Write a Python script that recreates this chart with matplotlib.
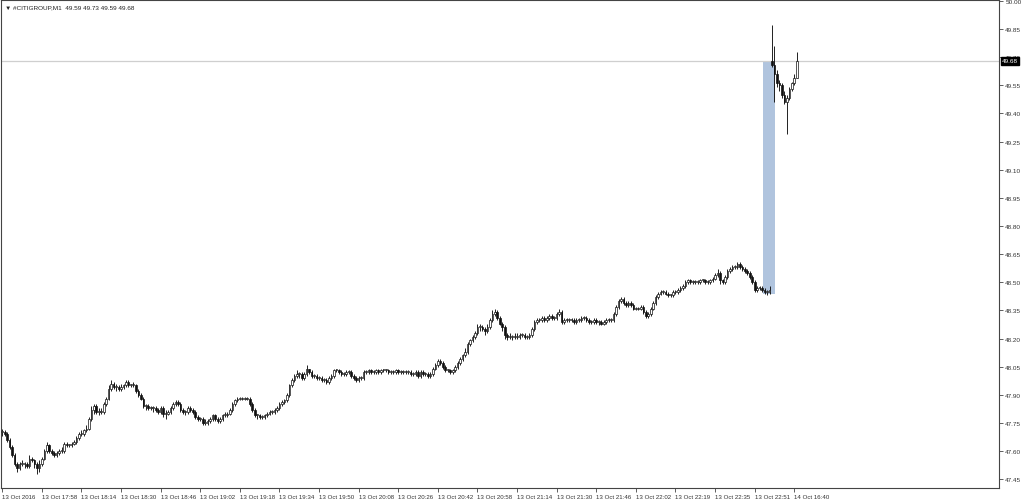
import numpy as np
import matplotlib.pyplot as plt
from matplotlib.transforms import blended_transform_factory

# chart header
symbol = "#CITIGROUP,M1"
last_ohlc = [49.59, 49.73, 49.59, 49.68]
current_price = 49.68

# one-minute bars (10 bars per row)
closes = [
    47.70, 47.69, 47.66, 47.62, 47.58, 47.53, 47.51, 47.53, 47.53, 47.53,
    47.52, 47.56, 47.55, 47.53, 47.51, 47.53, 47.56, 47.60, 47.63, 47.60,
    47.59, 47.58, 47.59, 47.60, 47.60, 47.64, 47.63, 47.63, 47.64, 47.65,
    47.67, 47.69, 47.69, 47.71, 47.72, 47.77, 47.82, 47.84, 47.81, 47.81,
    47.81, 47.85, 47.88, 47.93, 47.96, 47.94, 47.94, 47.93, 47.94, 47.95,
    47.97, 47.95, 47.95, 47.95, 47.92, 47.90, 47.88, 47.84, 47.84, 47.83,
    47.83, 47.83, 47.82, 47.81, 47.83, 47.80, 47.80, 47.81, 47.83, 47.85,
    47.86, 47.85, 47.82, 47.81, 47.81, 47.83, 47.82, 47.81, 47.78, 47.77,
    47.77, 47.75, 47.75, 47.76, 47.77, 47.79, 47.77, 47.76, 47.77, 47.79,
    47.79, 47.80, 47.82, 47.85, 47.87, 47.88, 47.88, 47.88, 47.88, 47.88,
    47.85, 47.82, 47.79, 47.79, 47.78, 47.78, 47.79, 47.80, 47.81, 47.81,
    47.82, 47.83, 47.85, 47.86, 47.87, 47.90, 47.95, 47.98, 48.00, 48.01,
    48.01, 47.99, 48.01, 48.04, 48.02, 48.00, 48.00, 47.99, 47.99, 47.98,
    47.98, 47.97, 47.99, 48.00, 48.03, 48.03, 48.02, 48.01, 48.01, 48.02,
    48.02, 48.00, 47.99, 47.98, 47.99, 47.99, 48.02, 48.02, 48.03, 48.02,
    48.02, 48.03, 48.02, 48.03, 48.03, 48.03, 48.02, 48.02, 48.02, 48.03,
    48.02, 48.02, 48.02, 48.02, 48.02, 48.01, 48.01, 48.02, 48.00, 48.02,
    48.01, 48.01, 48.00, 48.01, 48.04, 48.06, 48.08, 48.07, 48.05, 48.03,
    48.03, 48.02, 48.03, 48.05, 48.07, 48.09, 48.11, 48.13, 48.17, 48.19,
    48.21, 48.23, 48.26, 48.26, 48.25, 48.24, 48.26, 48.30, 48.33, 48.34,
    48.31, 48.28, 48.26, 48.22, 48.21, 48.21, 48.21, 48.21, 48.21, 48.22,
    48.22, 48.21, 48.21, 48.22, 48.25, 48.29, 48.30, 48.30, 48.31, 48.30,
    48.31, 48.32, 48.31, 48.31, 48.33, 48.34, 48.29, 48.30, 48.30, 48.30,
    48.30, 48.29, 48.30, 48.30, 48.31, 48.31, 48.30, 48.29, 48.29, 48.30,
    48.29, 48.29, 48.28, 48.29, 48.30, 48.30, 48.30, 48.33, 48.37, 48.40,
    48.41, 48.39, 48.38, 48.39, 48.38, 48.36, 48.36, 48.36, 48.37, 48.34,
    48.32, 48.33, 48.36, 48.39, 48.42, 48.44, 48.45, 48.45, 48.44, 48.43,
    48.43, 48.45, 48.45, 48.46, 48.47, 48.48, 48.50, 48.51, 48.50, 48.50,
    48.50, 48.50, 48.51, 48.51, 48.50, 48.50, 48.51, 48.52, 48.54, 48.55,
    48.51, 48.50, 48.53, 48.56, 48.57, 48.58, 48.58, 48.60, 48.58, 48.57,
    48.56, 48.55, 48.53, 48.50, 48.46, 48.47, 48.47, 48.46, 48.45, 48.45,
    48.46,
    # 14 Oct, after the gap
    49.66, 49.61, 49.56, 49.55, 49.50, 49.46, 49.48, 49.53, 49.56, 49.59,
    49.68,
]
highs = [
    47.72, 47.71, 47.70, 47.67, 47.63, 47.59, 47.54, 47.54, 47.55, 47.54,
    47.54, 47.58, 47.57, 47.56, 47.54, 47.55, 47.57, 47.61, 47.65, 47.64,
    47.61, 47.60, 47.60, 47.61, 47.62, 47.65, 47.65, 47.64, 47.65, 47.66,
    47.68, 47.70, 47.71, 47.72, 47.74, 47.78, 47.84, 47.85, 47.85, 47.83,
    47.83, 47.86, 47.89, 47.95, 47.98, 47.97, 47.96, 47.95, 47.96, 47.96,
    47.98, 47.98, 47.96, 47.97, 47.96, 47.93, 47.91, 47.89, 47.85, 47.85,
    47.84, 47.84, 47.84, 47.83, 47.84, 47.84, 47.82, 47.82, 47.84, 47.86,
    47.87, 47.87, 47.86, 47.83, 47.82, 47.84, 47.84, 47.83, 47.82, 47.79,
    47.78, 47.78, 47.77, 47.77, 47.78, 47.80, 47.80, 47.78, 47.78, 47.80,
    47.81, 47.81, 47.83, 47.86, 47.88, 47.89, 47.89, 47.89, 47.89, 47.89,
    47.89, 47.86, 47.83, 47.80, 47.80, 47.79, 47.80, 47.81, 47.82, 47.82,
    47.83, 47.84, 47.86, 47.87, 47.88, 47.91, 47.96, 47.99, 48.01, 48.03,
    48.02, 48.02, 48.02, 48.06, 48.04, 48.03, 48.01, 48.01, 48.00, 48.00,
    47.99, 47.99, 48.00, 48.01, 48.04, 48.04, 48.04, 48.03, 48.02, 48.03,
    48.03, 48.03, 48.01, 48.00, 48.00, 48.00, 48.03, 48.03, 48.04, 48.04,
    48.03, 48.04, 48.04, 48.04, 48.04, 48.04, 48.04, 48.03, 48.03, 48.04,
    48.04, 48.03, 48.03, 48.03, 48.03, 48.03, 48.02, 48.03, 48.03, 48.03,
    48.03, 48.02, 48.02, 48.02, 48.05, 48.07, 48.09, 48.09, 48.08, 48.06,
    48.04, 48.04, 48.04, 48.06, 48.08, 48.10, 48.12, 48.15, 48.18, 48.20,
    48.22, 48.24, 48.28, 48.28, 48.27, 48.26, 48.28, 48.31, 48.35, 48.36,
    48.35, 48.32, 48.29, 48.27, 48.23, 48.23, 48.22, 48.23, 48.23, 48.23,
    48.23, 48.23, 48.22, 48.23, 48.26, 48.30, 48.31, 48.31, 48.32, 48.32,
    48.32, 48.33, 48.33, 48.32, 48.34, 48.36, 48.35, 48.31, 48.31, 48.31,
    48.31, 48.31, 48.31, 48.31, 48.32, 48.32, 48.32, 48.31, 48.30, 48.31,
    48.31, 48.30, 48.30, 48.30, 48.31, 48.31, 48.31, 48.34, 48.38, 48.41,
    48.42, 48.42, 48.40, 48.40, 48.40, 48.39, 48.37, 48.37, 48.38, 48.38,
    48.35, 48.34, 48.37, 48.40, 48.43, 48.45, 48.46, 48.46, 48.46, 48.45,
    48.44, 48.46, 48.46, 48.47, 48.48, 48.49, 48.51, 48.52, 48.52, 48.51,
    48.51, 48.51, 48.52, 48.52, 48.52, 48.51, 48.52, 48.53, 48.55, 48.57,
    48.56, 48.52, 48.54, 48.57, 48.58, 48.59, 48.59, 48.61, 48.61, 48.59,
    48.58, 48.57, 48.56, 48.54, 48.51, 48.48, 48.48, 48.48, 48.47, 48.46,
    48.48,
    49.87, 49.76, 49.63, 49.58, 49.56, 49.52, 49.50, 49.54, 49.57, 49.61,
    49.73,
]
lows = [
    47.68, 47.68, 47.65, 47.61, 47.57, 47.52, 47.49, 47.50, 47.52, 47.51,
    47.51, 47.51, 47.54, 47.51, 47.48, 47.49, 47.52, 47.55, 47.59, 47.59,
    47.58, 47.57, 47.57, 47.58, 47.59, 47.59, 47.62, 47.62, 47.62, 47.63,
    47.64, 47.66, 47.68, 47.68, 47.70, 47.71, 47.76, 47.80, 47.80, 47.79,
    47.80, 47.80, 47.84, 47.87, 47.92, 47.93, 47.92, 47.92, 47.92, 47.93,
    47.94, 47.94, 47.94, 47.94, 47.91, 47.89, 47.87, 47.83, 47.82, 47.82,
    47.82, 47.81, 47.81, 47.80, 47.80, 47.78, 47.77, 47.79, 47.80, 47.82,
    47.84, 47.84, 47.81, 47.80, 47.79, 47.80, 47.81, 47.80, 47.77, 47.76,
    47.76, 47.74, 47.74, 47.74, 47.75, 47.76, 47.76, 47.75, 47.75, 47.76,
    47.78, 47.78, 47.79, 47.81, 47.84, 47.86, 47.87, 47.87, 47.87, 47.87,
    47.84, 47.81, 47.78, 47.77, 47.77, 47.77, 47.77, 47.78, 47.79, 47.80,
    47.80, 47.81, 47.82, 47.84, 47.85, 47.86, 47.89, 47.94, 47.97, 47.99,
    47.99, 47.98, 47.98, 48.00, 48.01, 47.99, 47.99, 47.98, 47.98, 47.97,
    47.97, 47.96, 47.96, 47.98, 47.99, 48.02, 48.01, 48.00, 48.00, 48.00,
    48.01, 47.99, 47.98, 47.97, 47.97, 47.98, 47.98, 48.01, 48.01, 48.01,
    48.01, 48.01, 48.01, 48.01, 48.02, 48.02, 48.01, 48.01, 48.01, 48.01,
    48.01, 48.01, 48.01, 48.01, 48.01, 48.00, 48.00, 48.00, 47.99, 47.99,
    48.00, 48.00, 47.99, 47.99, 48.00, 48.03, 48.05, 48.06, 48.04, 48.02,
    48.02, 48.01, 48.01, 48.02, 48.04, 48.06, 48.08, 48.10, 48.12, 48.16,
    48.18, 48.20, 48.22, 48.24, 48.24, 48.22, 48.23, 48.25, 48.29, 48.32,
    48.30, 48.27, 48.24, 48.20, 48.19, 48.20, 48.19, 48.20, 48.20, 48.20,
    48.21, 48.20, 48.20, 48.20, 48.21, 48.24, 48.28, 48.29, 48.29, 48.29,
    48.29, 48.30, 48.30, 48.30, 48.30, 48.32, 48.28, 48.28, 48.29, 48.29,
    48.29, 48.28, 48.28, 48.29, 48.29, 48.30, 48.29, 48.28, 48.28, 48.28,
    48.28, 48.27, 48.27, 48.27, 48.28, 48.29, 48.29, 48.29, 48.32, 48.36,
    48.39, 48.38, 48.37, 48.37, 48.37, 48.35, 48.35, 48.35, 48.35, 48.33,
    48.31, 48.31, 48.32, 48.35, 48.38, 48.41, 48.43, 48.44, 48.43, 48.42,
    48.42, 48.42, 48.44, 48.44, 48.45, 48.46, 48.47, 48.49, 48.49, 48.49,
    48.49, 48.49, 48.49, 48.50, 48.49, 48.49, 48.49, 48.50, 48.51, 48.53,
    48.49, 48.49, 48.49, 48.52, 48.55, 48.56, 48.57, 48.57, 48.57, 48.56,
    48.55, 48.54, 48.52, 48.49, 48.45, 48.45, 48.46, 48.45, 48.44, 48.43,
    48.44,
    49.65, 49.46, 49.54, 49.52, 49.48, 49.45, 49.29, 49.47, 49.52, 49.55,
    49.59,
]
# opens follow the previous close except where the price jumped
open_overrides = {0: 47.70, 311: 49.68}

tick_bars = list(range(0, 321, 16))
tick_labels = ["13 Oct 2016", "13 Oct 17:58", "13 Oct 18:14", "13 Oct 18:30",
               "13 Oct 18:46", "13 Oct 19:02", "13 Oct 19:18", "13 Oct 19:34",
               "13 Oct 19:50", "13 Oct 20:08", "13 Oct 20:26", "13 Oct 20:42",
               "13 Oct 20:58", "13 Oct 21:14", "13 Oct 21:30", "13 Oct 21:46",
               "13 Oct 22:02", "13 Oct 22:19", "13 Oct 22:35", "13 Oct 22:51",
               "14 Oct 16:40"]
price_ticks = [47.45, 47.60, 47.75, 47.90, 48.05, 48.20, 48.35, 48.50, 48.65,
               48.80, 48.95, 49.10, 49.25, 49.40, 49.55, 49.70, 49.85, 50.00]

# gap marked with a rectangle (bar span, price span)
gap_bars = (307.3, 312.2)
gap_prices = (48.44, 49.68)

plt.rcParams['font.family'] = ['Liberation Sans', 'DejaVu Sans']

closes = np.array(closes)
n = len(closes)
idx = np.arange(n)
opens = np.array([open_overrides.get(i, closes[i - 1]) for i in idx])
highs = np.maximum(np.array(highs[:n]), np.maximum(opens, closes))
lows = np.minimum(np.array(lows[:n]), np.minimum(opens, closes))

fig = plt.figure(figsize=(10.24, 5.02), dpi=100)
ax = fig.add_axes([1 / 1024, 1 - 489 / 502, 998 / 1024, 488 / 502])
ax.set_xlim(-0.5, 402.7)
ax.set_ylim(47.403, 50.005)

# gap rectangle and current price line
ax.fill_between(gap_bars, gap_prices[0], gap_prices[1], color="#b0c4de", lw=0, zorder=1)
ax.axhline(current_price, color="#cfcfcf", lw=0.9, zorder=1)

# candles
ax.vlines(idx, lows, highs, color="#111111", lw=0.65, zorder=2)
up = closes >= opens
body = np.abs(closes - opens)
body = np.where(body < 0.005, 0.005, body)
bottoms = np.minimum(opens, closes)
ax.bar(idx[up], body[up], bottom=bottoms[up], width=0.65, color="white",
       edgecolor="#111111", lw=0.5, zorder=3)
ax.bar(idx[~up], body[~up], bottom=bottoms[~up], width=0.65, color="#111111",
       edgecolor="#111111", lw=0.5, zorder=3)

# axes look
for s in ax.spines.values():
    s.set_color("#444444")
    s.set_linewidth(0.8)
ax.yaxis.tick_right()
ax.set_yticks(price_ticks)
ax.set_yticklabels([f"{p:.2f}" for p in price_ticks])
ax.tick_params(axis="y", labelsize=4.6, length=3, width=0.6, pad=1.5,
               colors="#444444", labelcolor="#333333")
ax.set_xticks(tick_bars)
ax.set_xticklabels(tick_labels, ha="left")
ax.tick_params(axis="x", labelsize=4.4, length=3, width=0.6, pad=1,
               colors="#444444", labelcolor="#333333")

# price tag on the right axis
trans = blended_transform_factory(ax.transAxes, ax.transData)
ax.text(1.003, current_price, f"{current_price:.2f}", transform=trans, fontsize=4.6,
        color="white", va="center", ha="left", zorder=10, clip_on=False,
        bbox=dict(boxstyle="square,pad=0.2", fc="black", ec="black"))

# header
ax.text(0.004, 0.992, "\u25bc " + symbol + "  " + " ".join(f"{v:.2f}" for v in last_ohlc),
        transform=ax.transAxes, fontsize=4.6, va="top", ha="left", color="#222222")

fig.savefig("out.png", dpi=100)
